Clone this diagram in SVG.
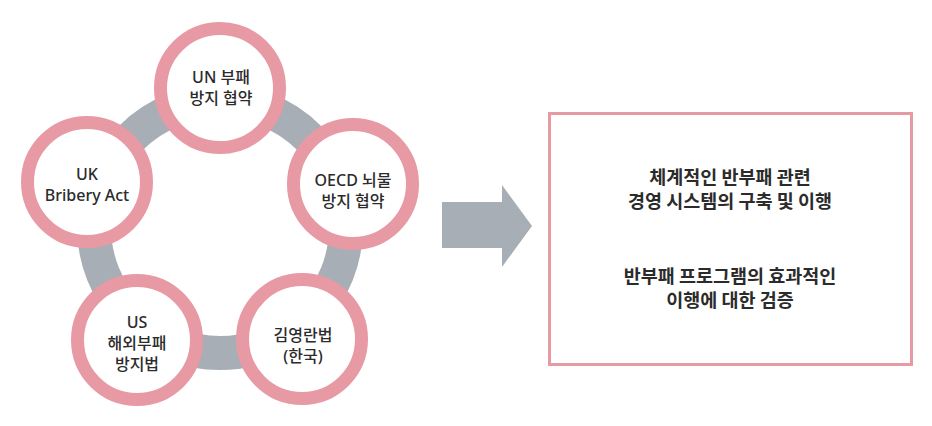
<svg xmlns="http://www.w3.org/2000/svg" width="932" height="426" viewBox="0 0 932 426">
<style>
.ring{fill:#fff;stroke:#e79aa4;stroke-width:13}
.t{font-family:"Noto Sans","Noto Sans CJK KR",sans-serif;font-size:16px;font-weight:500;fill:#2b2b2b;text-anchor:middle}
.b{font-family:"Noto Sans CJK KR","Noto Sans",sans-serif;font-size:18.5px;font-weight:600;fill:#2b2b2b;text-anchor:middle}
</style>
<rect width="932" height="426" fill="#fff"/>
<g id="connectors">
<circle cx="220" cy="227" r="126" fill="none" stroke="#a7aeb6" stroke-width="34"/>
<path d="M442 202 H502 V185 L532 226 L502 267 V248 H442 Z" fill="#a7aeb6"/>
</g>
<g id="un">
<circle class="ring" cx="220" cy="88" r="59.5"/>
<text class="t" x="221" y="83">UN 부패</text>
<text class="t" x="221" y="104">방지 협약</text>
</g>
<g id="oecd">
<circle class="ring" cx="353" cy="184" r="59.5"/>
<text class="t" x="353" y="186">OECD 뇌물</text>
<text class="t" x="353" y="207">방지 협약</text>
</g>
<g id="kim">
<circle class="ring" cx="302" cy="339" r="59.5"/>
<text class="t" x="303" y="341">김영란법</text>
<text class="t" x="303" y="362">(한국)</text>
</g>
<g id="us">
<circle class="ring" cx="137" cy="340" r="59.5"/>
<text class="t" x="137" y="328">US</text>
<text class="t" x="137" y="349">해외부패</text>
<text class="t" x="137" y="370">방지법</text>
</g>
<g id="uk">
<circle class="ring" cx="87" cy="182" r="59.5"/>
<text class="t" x="87" y="180">UK</text>
<text class="t" x="87" y="201">Bribery Act</text>
</g>
<g id="box">
<rect x="549.5" y="113.5" width="362" height="251" fill="#fff" stroke="#e79aa4" stroke-width="3"/>
<text class="b" x="730" y="184">체계적인 반부패 관련</text>
<text class="b" x="730" y="208">경영 시스템의 구축 및 이행</text>
<text class="b" x="730" y="283">반부패 프로그램의 효과적인</text>
<text class="b" x="730" y="307">이행에 대한 검증</text>
</g>
</svg>
